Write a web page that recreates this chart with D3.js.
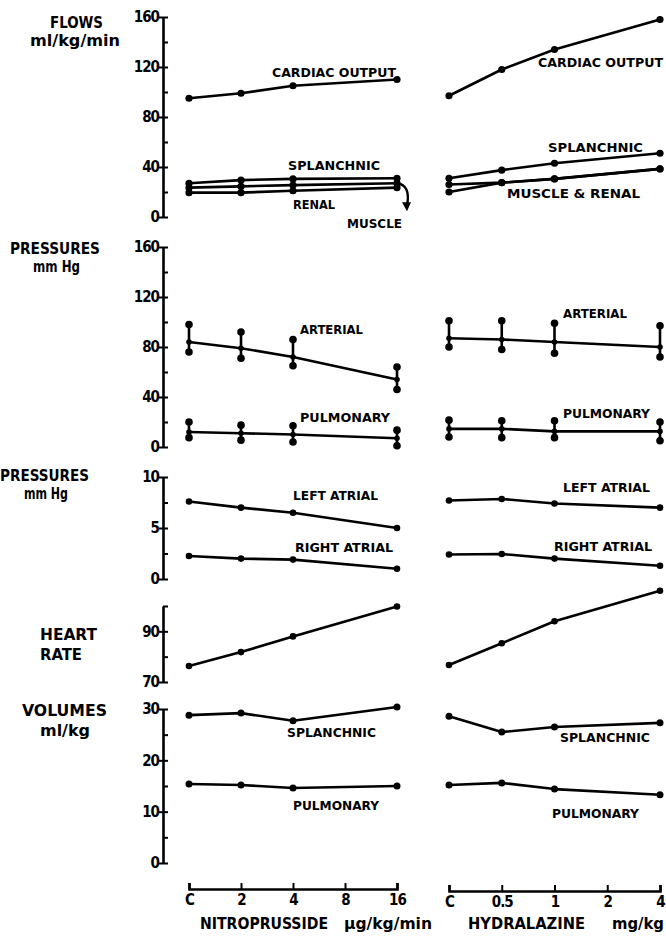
<!DOCTYPE html>
<html><head><meta charset="utf-8">
<script src="https://cdn.jsdelivr.net/npm/d3@7"></script>
<style>body{margin:0;background:#fff}svg{display:block}</style>
</head><body><svg id="c" width="666" height="942"></svg>
<script>
// ---- categories ----
const nitroLevels = ["C","2","4","8","16"];
const hydraLevels = ["C","0.5","1","2","4"];
const nitroDoses = ["C","2","4","16"];
const hydraDoses = ["C","0.5","1","4"];

// ---- flows (ml/kg/min) ----
const cardiacOutputNitro = [95, 99, 105, 110];
const splanchnicFlowNitro = [27, 29.5, 30.5, 31];
const muscleFlowNitro = [23.5, 24.5, 25.5, 27];
const renalFlowNitro = [19.5, 19.5, 21, 23.5];
const cardiacOutputHydra = [97, 118, 134, 158];
const splanchnicFlowHydra = [31, 37.5, 43, 51];
const renalFlowHydra = [26, 27.5, 30.5, 38.5];
const muscleFlowHydra = [20, 27.5, 30.5, 38.5];

// ---- pressures (mm Hg): systolic / mean / diastolic ----
const arterialSysNitro = [98, 92, 86, 64];
const arterialMeanNitro = [84, 79, 72, 54];
const arterialDiaNitro = [76, 71, 65, 46];
const arterialSysHydra = [101, 101, 99, 97];
const arterialMeanHydra = [87, 86, 84, 80];
const arterialDiaHydra = [80, 78, 75, 72];
const pulmSysNitro = [20, 17.5, 17, 13.5];
const pulmMeanNitro = [12, 11, 10, 7];
const pulmDiaNitro = [7.5, 5.5, 4, 1];
const pulmSysHydra = [21.5, 21, 21, 20];
const pulmMeanHydra = [14.5, 14.5, 12.5, 12.5];
const pulmDiaHydra = [8, 7.5, 7.5, 5];

// ---- atrial pressures (mm Hg) ----
const leftAtrialNitro = [7.6, 7.0, 6.5, 5.0];
const rightAtrialNitro = [2.25, 2.0, 1.9, 1.0];
const leftAtrialHydra = [7.7, 7.85, 7.4, 7.0];
const rightAtrialHydra = [2.4, 2.45, 2.0, 1.3];

// ---- heart rate ----
const heartRateNitro = [76.3, 81.8, 88, 99.8];
const heartRateHydra = [76.7, 85.3, 94, 106];

// ---- volumes (ml/kg) ----
const splanchnicVolNitro = [28.8, 29.2, 27.7, 30.4];
const pulmonaryVolNitro = [15.4, 15.2, 14.6, 15.0];
const splanchnicVolHydra = [28.6, 25.5, 26.5, 27.3];
const pulmonaryVolHydra = [15.2, 15.6, 14.4, 13.3];

// ---- tick values ----
const flowTicks = [0,20,40,60,80,100,120,140,160];
const flowLabels = [0,40,80,120,160];
const atrialTicks = [0,2.5,5,7.5,10];
const atrialLabels = [0,5,10];
const hrTicks = [70,80,90,100];
const hrLabels = [70,90];
const volTicks = [0,5,10,15,20,25,30];
const volLabels = [0,10,20,30];

// ================= drawing =================
const svg = d3.select("#c");
const FONT = "'DejaVu Sans Condensed','DejaVu Sans',sans-serif";
const AX = 163;
const xN = d3.scalePoint().domain(nitroLevels).range([189, 397]);
const xH = d3.scalePoint().domain(hydraLevels).range([449, 660]);

const yFlow = d3.scaleLinear().domain([0,160]).range([217,17]);
const yPres = d3.scaleLinear().domain([0,160]).range([447,247]);
const yAtr = d3.scaleLinear().domain([0,10]).range([579,477]);
const yHR = d3.scaleLinear().domain([70,100]).range([682,606]);
const yVol = d3.scaleLinear().domain([0,30]).range([863,709]);

function yAxis(scale, all, major) {
  const g = svg.append("g").attr("transform", `translate(${AX},0)`);
  g.call(d3.axisLeft(scale).tickValues(all).tickSize(-5).tickSizeOuter(0).tickFormat(""));
  g.select(".domain").attr("stroke","#000").attr("stroke-width",2.6);
  g.selectAll(".tick line").attr("stroke","#000").attr("stroke-width",2);
  const g2 = svg.append("g").attr("transform", `translate(${AX},0)`);
  g2.call(d3.axisLeft(scale).tickValues(major).tickSize(4).tickPadding(0).tickFormat(d3.format("d")));
  g2.select(".domain").remove();
  g2.selectAll(".tick line").attr("stroke","#000").attr("stroke-width",2);
  g2.selectAll("text").attr("font-family",FONT).attr("font-weight","bold")
    .attr("font-size",15).attr("fill","#000").attr("letter-spacing","-1px");
}

function series(x, doses, y, vals, r) {
  const pts = doses.map((d,i)=>[x(d), y(vals[i])]);
  svg.append("path").attr("d", d3.line()(pts)).attr("fill","none")
    .attr("stroke","#000").attr("stroke-width",2.6).attr("stroke-linejoin","round");
  svg.append("g").selectAll("circle").data(pts).join("circle")
    .attr("cx",d=>d[0]).attr("cy",d=>d[1]).attr("r",r||3.6).attr("fill","#000");
}

function rangeSeries(x, doses, y, sys, mean, dia) {
  series(x, doses, y, mean, 2.8);
  const g = svg.append("g");
  doses.forEach((d,i)=>{
    g.append("line").attr("x1",x(d)).attr("x2",x(d)).attr("y1",y(sys[i])).attr("y2",y(dia[i]))
      .attr("stroke","#000").attr("stroke-width",2.6);
    g.append("circle").attr("cx",x(d)).attr("cy",y(sys[i])).attr("r",3.8).attr("fill","#000");
    g.append("circle").attr("cx",x(d)).attr("cy",y(dia[i])).attr("r",3.8).attr("fill","#000");
  });
}

// axes
yAxis(yFlow, flowTicks, flowLabels);
yAxis(yPres, flowTicks, flowLabels);
yAxis(yAtr, atrialTicks, atrialLabels);
yAxis(yHR, hrTicks, hrLabels);
yAxis(yVol, volTicks, volLabels);

// flows
series(xN, nitroDoses, yFlow, cardiacOutputNitro);
series(xN, nitroDoses, yFlow, splanchnicFlowNitro);
series(xN, nitroDoses, yFlow, muscleFlowNitro);
series(xN, nitroDoses, yFlow, renalFlowNitro);
series(xH, hydraDoses, yFlow, cardiacOutputHydra);
series(xH, hydraDoses, yFlow, splanchnicFlowHydra);
series(xH, hydraDoses, yFlow, renalFlowHydra);
series(xH, hydraDoses, yFlow, muscleFlowHydra);

// muscle arrow
{
  const ex = xN("16"), ey = yFlow(muscleFlowNitro[3]);
  svg.append("path").attr("d", `M${ex},${ey} Q${ex+14},${ey+2} ${ex+10},${ey+22}`)
    .attr("fill","none").attr("stroke","#000").attr("stroke-width",2.4);
  svg.append("path").attr("d", `M${ex+5},${ey+19} L${ex+10},${ey+28} L${ex+14},${ey+19} Z`)
    .attr("fill","#000");
}

// pressures
rangeSeries(xN, nitroDoses, yPres, arterialSysNitro, arterialMeanNitro, arterialDiaNitro);
rangeSeries(xN, nitroDoses, yPres, pulmSysNitro, pulmMeanNitro, pulmDiaNitro);
rangeSeries(xH, hydraDoses, yPres, arterialSysHydra, arterialMeanHydra, arterialDiaHydra);
rangeSeries(xH, hydraDoses, yPres, pulmSysHydra, pulmMeanHydra, pulmDiaHydra);

// atrial
series(xN, nitroDoses, yAtr, leftAtrialNitro, 3.3);
series(xN, nitroDoses, yAtr, rightAtrialNitro, 3.3);
series(xH, hydraDoses, yAtr, leftAtrialHydra, 3.3);
series(xH, hydraDoses, yAtr, rightAtrialHydra, 3.3);

// heart rate
series(xN, nitroDoses, yHR, heartRateNitro, 3.3);
series(xH, hydraDoses, yHR, heartRateHydra, 3.3);

// volumes
series(xN, nitroDoses, yVol, splanchnicVolNitro, 3.5);
series(xN, nitroDoses, yVol, pulmonaryVolNitro, 3.5);
series(xH, hydraDoses, yVol, splanchnicVolHydra, 3.5);
series(xH, hydraDoses, yVol, pulmonaryVolHydra, 3.5);

// bottom axes
function xAxis(scale, y) {
  const g = svg.append("g").attr("transform", `translate(0,${y})`);
  g.call(d3.axisBottom(scale).tickSize(-6).tickSizeOuter(-6).tickPadding(5));
  g.select(".domain").attr("stroke","#000").attr("stroke-width",2.6);
  g.selectAll(".tick line").attr("stroke","#000").attr("stroke-width",2);
  g.selectAll("text").attr("font-family",FONT).attr("font-weight","bold")
    .attr("font-size",15).attr("fill","#000").attr("letter-spacing","-1px");
}
xAxis(xN, 889);
xAxis(xH, 891);

// ---- text annotations: [text, xStart, xEnd, baseline, size] ----
const seriesLabels = [
  ["CARDIAC OUTPUT", 272, 396, 77, 12],
  ["SPLANCHNIC", 288, 380, 170, 12],
  ["RENAL", 293, 335, 209, 12],
  ["MUSCLE", 347, 402, 228, 12],
  ["CARDIAC OUTPUT", 538, 663, 67, 12],
  ["SPLANCHNIC", 548, 643, 152, 12],
  ["MUSCLE & RENAL", 507, 640, 198, 12],
  ["ARTERIAL", 300, 363, 334, 12],
  ["PULMONARY", 300, 390, 422, 12],
  ["ARTERIAL", 563, 627, 318, 12],
  ["PULMONARY", 563, 650, 418, 12],
  ["LEFT ATRIAL", 293, 378, 500, 12],
  ["RIGHT ATRIAL", 295, 393, 552, 12],
  ["LEFT ATRIAL", 563, 650, 492, 12],
  ["RIGHT ATRIAL", 554, 652, 551, 12],
  ["SPLANCHNIC", 287, 376, 737, 12],
  ["PULMONARY", 293, 379, 810, 12],
  ["SPLANCHNIC", 560, 650, 742, 12],
  ["PULMONARY", 552, 639, 818, 12],
  ["FLOWS", 50, 103, 28, 16],
  ["ml/kg/min", 30, 120, 46, 16],
  ["PRESSURES", 10, 100, 254, 16],
  ["mm Hg", 33, 80, 272, 16],
  ["PRESSURES", 0, 89, 481, 16],
  ["mm Hg", 24, 68, 499, 16],
  ["HEART", 40, 97, 640, 16],
  ["RATE", 40, 82, 660, 16],
  ["VOLUMES", 22, 107, 716, 16],
  ["ml/kg", 40, 90, 736, 16],
  ["NITROPRUSSIDE", 200, 328, 929, 15],
  ["\u00b5g/kg/min", 344, 432, 929, 15],
  ["HYDRALAZINE", 468, 585, 929, 15],
  ["mg/kg", 612, 664, 929, 15]
];
svg.append("g").selectAll("text").data(seriesLabels).join("text")
  .attr("x", d=>d[1]).attr("y", d=>d[3])
  .attr("textLength", d=>d[2]-d[1]).attr("lengthAdjust","spacingAndGlyphs")
  .attr("font-family", FONT).attr("font-weight","bold").attr("font-size", d=>d[4])
  .attr("fill","#000").text(d=>d[0]);
</script></body></html>
